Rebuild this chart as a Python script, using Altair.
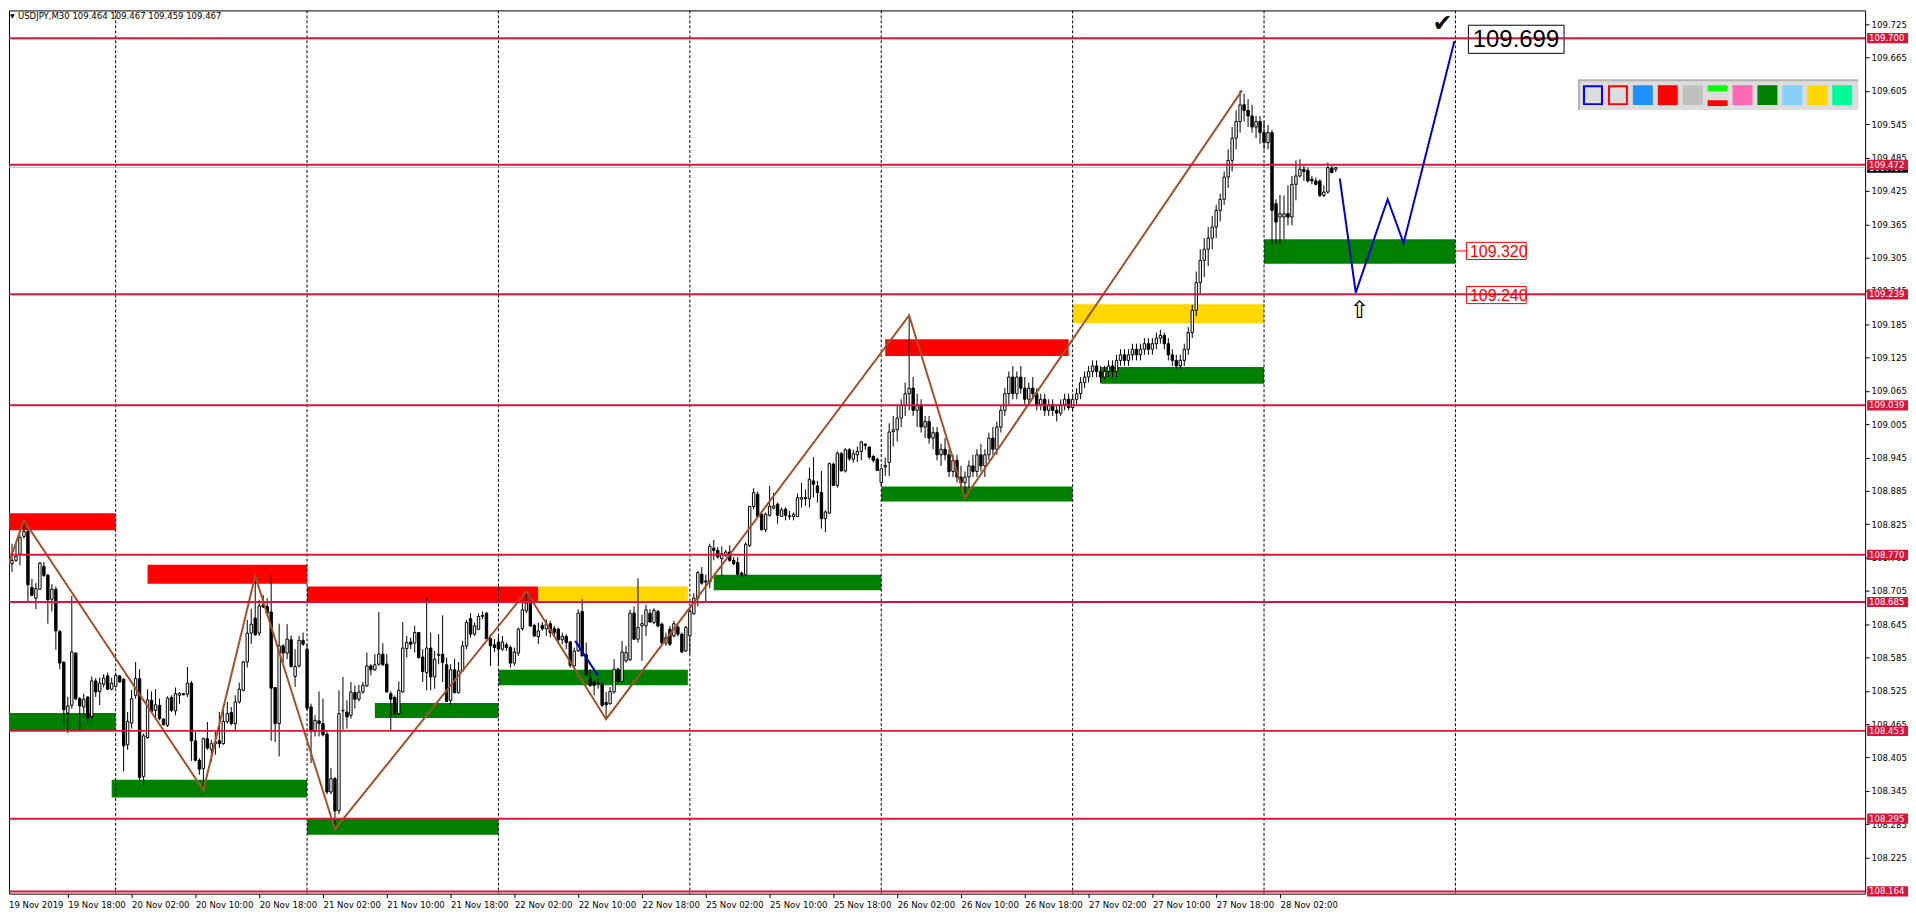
import altair as alt
import pandas as pd

FONT = "DejaVu Sans Condensed, DejaVu Sans, sans-serif"
FONT2 = "Liberation Sans, Arial, sans-serif"

HEADER = "USDJPY,M30  109.464 109.467 109.459 109.467"

OPEN = [
108.659,108.689,108.754,108.760,108.771,108.803,108.812,108.711,108.692,108.708,
108.749,108.733,108.690,108.708,108.632,108.576,108.485,108.499,108.593,108.511,
108.496,108.514,108.479,108.543,108.524,108.537,108.552,108.528,108.533,108.552,
108.546,108.428,108.467,108.517,108.547,108.371,108.441,108.508,108.490,108.499,
108.474,108.463,108.513,108.489,108.517,108.520,108.519,108.539,108.435,108.400,
108.385,108.439,108.420,108.430,108.435,108.430,108.470,108.486,108.466,108.505,
108.526,108.577,108.629,108.656,108.629,108.680,108.677,108.667,108.531,108.466,
108.606,108.593,108.617,108.551,108.570,108.616,108.600,108.496,108.452,108.471,
108.466,108.447,108.343,108.367,108.309,108.489,108.487,108.481,108.522,108.510,
108.523,108.534,108.570,108.563,108.573,108.591,108.573,108.520,108.513,108.484,
108.523,108.601,108.613,108.611,108.630,108.586,108.558,108.602,108.550,108.589,
108.591,108.572,108.508,108.563,108.522,108.561,108.606,108.655,108.627,108.636,
108.659,108.665,108.619,108.608,108.613,108.600,108.608,108.603,108.575,108.593,
108.637,108.669,108.683,108.643,108.623,108.643,108.637,108.646,108.637,108.636,
108.617,108.623,108.613,108.570,108.597,108.668,108.590,108.547,108.541,108.539,
108.536,108.504,108.502,108.523,108.564,108.542,108.579,108.581,108.665,108.618,
108.642,108.642,108.665,108.648,108.668,108.645,108.611,108.636,108.624,108.640,
108.627,108.597,108.624,108.664,108.692,108.735,108.723,108.721,108.782,108.778,
108.763,108.769,108.775,108.760,108.756,108.737,108.734,108.787,108.857,108.879,
108.843,108.815,108.841,108.854,108.861,108.839,108.852,108.840,108.839,108.839,
108.870,108.873,108.871,108.903,108.894,108.882,108.835,108.845,108.933,108.895,
108.952,108.921,108.959,108.942,108.950,108.956,108.969,108.964,108.947,108.942,
108.900,108.928,108.936,108.992,108.995,109.016,109.040,109.060,109.070,109.030,
109.040,109.000,109.010,108.980,108.990,108.950,108.960,108.950,108.920,108.940,
108.910,108.900,108.910,108.930,108.920,108.950,108.930,108.950,108.980,108.960,
109.000,109.030,109.060,109.090,109.060,109.090,109.070,109.050,109.070,109.060,
109.040,109.050,109.030,109.040,109.030,109.025,109.040,109.050,109.035,109.050,
109.060,109.080,109.090,109.100,109.110,109.100,109.090,109.100,109.110,109.100,
109.120,109.130,109.120,109.130,109.140,109.130,109.140,109.150,109.140,109.150,
109.160,109.165,109.150,109.130,109.120,109.110,109.120,109.140,109.170,109.210,
109.260,109.300,109.320,109.340,109.360,109.390,109.410,109.450,109.480,109.520,
109.550,109.580,109.570,109.560,109.540,109.550,109.530,109.512,109.530,109.402,
109.378,109.378,109.384,109.378,109.437,109.452,109.464,109.462,109.446,109.443,
109.443,109.417,109.423,109.466,109.464,
]
HIGH = [
108.692,108.757,108.790,108.790,108.806,108.833,108.815,108.727,108.719,108.757,
108.757,108.736,108.717,108.713,108.635,108.579,108.514,108.696,108.595,108.514,
108.520,108.515,108.551,108.548,108.549,108.555,108.558,108.549,108.558,108.553,
108.548,108.487,108.527,108.577,108.564,108.448,108.528,108.524,108.528,108.511,
108.476,108.515,108.517,108.531,108.523,108.521,108.568,108.543,108.451,108.404,
108.441,108.469,108.437,108.451,108.487,108.499,108.505,108.496,108.517,108.540,
108.579,108.653,108.673,108.733,108.689,108.698,108.692,108.734,108.532,108.646,
108.609,108.645,108.625,108.600,108.624,108.630,108.610,108.502,108.481,108.524,
108.511,108.452,108.386,108.370,108.526,108.550,108.508,108.541,108.535,108.536,
108.541,108.594,108.573,108.591,108.667,108.611,108.591,108.524,108.517,108.542,
108.649,108.624,108.621,108.642,108.631,108.600,108.693,108.630,108.597,108.627,
108.661,108.585,108.573,108.583,108.577,108.615,108.653,108.665,108.648,108.664,
108.668,108.667,108.627,108.618,108.627,108.624,108.612,108.607,108.603,108.639,
108.683,108.704,108.696,108.646,108.648,108.649,108.654,108.651,108.642,108.639,
108.630,108.627,108.615,108.603,108.672,108.690,108.612,108.564,108.544,108.547,
108.541,108.523,108.532,108.582,108.567,108.615,108.606,108.671,108.677,108.728,
108.662,108.680,108.672,108.674,108.671,108.648,108.630,108.642,108.651,108.645,
108.630,108.642,108.672,108.701,108.741,108.748,108.734,108.790,108.797,108.784,
108.785,108.779,108.787,108.766,108.766,108.740,108.793,108.858,108.890,108.884,
108.846,108.846,108.894,108.882,108.864,108.855,108.855,108.849,108.846,108.880,
108.900,108.888,108.927,108.946,108.903,108.921,108.850,108.936,108.936,108.956,
108.955,108.962,108.962,108.959,108.965,108.975,108.971,108.965,108.950,108.945,
108.927,108.945,109.007,109.020,109.040,109.050,109.080,109.201,109.090,109.060,
109.050,109.020,109.020,109.000,109.000,108.970,108.980,108.960,108.950,108.950,
108.930,108.920,108.940,108.950,108.960,108.970,108.960,108.990,109.000,109.010,
109.040,109.070,109.100,109.110,109.100,109.110,109.090,109.080,109.090,109.070,
109.060,109.060,109.050,109.050,109.040,109.050,109.060,109.060,109.060,109.070,
109.090,109.100,109.110,109.120,109.120,109.110,109.110,109.120,109.120,109.130,
109.140,109.140,109.140,109.150,109.150,109.150,109.160,109.160,109.160,109.170,
109.175,109.170,109.160,109.140,109.130,109.130,109.150,109.180,109.220,109.280,
109.320,109.340,109.360,109.380,109.400,109.420,109.460,109.500,109.540,109.570,
109.606,109.600,109.590,109.580,109.560,109.560,109.550,109.544,109.535,109.410,
109.418,109.417,109.435,109.452,109.480,109.482,109.470,109.467,109.452,109.449,
109.446,109.435,109.476,109.473,109.467,
]
LOW = [
108.619,108.683,108.739,108.757,108.751,108.799,108.684,108.695,108.672,108.707,
108.730,108.646,108.668,108.599,108.564,108.464,108.449,108.493,108.508,108.454,
108.478,108.466,108.475,108.514,108.499,108.531,108.527,108.526,108.531,108.540,
108.380,108.419,108.457,108.511,108.362,108.353,108.439,108.487,108.478,108.472,
108.463,108.460,108.487,108.481,108.502,108.517,108.514,108.399,108.398,108.374,
108.347,108.419,108.398,108.410,108.422,108.428,108.466,108.463,108.452,108.502,
108.524,108.567,108.609,108.624,108.624,108.674,108.659,108.435,108.433,108.407,
108.576,108.582,108.567,108.532,108.567,108.606,108.490,108.395,108.443,108.443,
108.443,108.339,108.339,108.276,108.303,108.455,108.457,108.475,108.493,108.506,
108.520,108.532,108.553,108.561,108.570,108.570,108.522,108.453,108.481,108.481,
108.522,108.585,108.600,108.594,108.583,108.541,108.526,108.526,108.529,108.573,
108.541,108.505,108.500,108.520,108.520,108.560,108.600,108.621,108.624,108.634,
108.654,108.618,108.570,108.595,108.570,108.597,108.597,108.567,108.570,108.588,
108.633,108.665,108.640,108.622,108.609,108.633,108.624,108.621,108.624,108.613,
108.609,108.600,108.567,108.567,108.595,108.587,108.552,108.532,108.517,108.529,
108.496,108.475,108.500,108.520,108.541,108.541,108.576,108.579,108.617,108.612,
108.579,108.624,108.648,108.645,108.639,108.609,108.606,108.606,108.621,108.623,
108.593,108.595,108.591,108.662,108.677,108.716,108.686,108.710,108.760,108.763,
108.731,108.766,108.757,108.751,108.732,108.730,108.732,108.784,108.852,108.838,
108.814,108.811,108.839,108.852,108.826,108.838,108.832,108.833,108.832,108.838,
108.855,108.858,108.855,108.873,108.864,108.817,108.811,108.844,108.894,108.891,
108.920,108.918,108.939,108.936,108.937,108.940,108.959,108.942,108.936,108.921,
108.894,108.912,108.912,108.965,108.974,109.000,109.020,109.030,109.020,109.000,
108.990,108.980,108.970,108.960,108.940,108.930,108.940,108.910,108.910,108.900,
108.890,108.873,108.890,108.910,108.910,108.920,108.910,108.940,108.950,108.950,
108.990,109.020,109.040,109.050,109.050,109.060,109.040,109.040,109.050,109.030,
109.030,109.020,109.020,109.020,109.010,109.020,109.030,109.030,109.030,109.040,
109.050,109.070,109.080,109.090,109.090,109.080,109.085,109.090,109.090,109.090,
109.110,109.110,109.110,109.120,109.120,109.120,109.130,109.130,109.130,109.140,
109.150,109.140,109.120,109.110,109.105,109.105,109.110,109.130,109.160,109.200,
109.240,109.270,109.290,109.320,109.340,109.370,109.400,109.430,109.460,109.500,
109.530,109.550,109.540,109.530,109.520,109.510,109.500,109.500,109.328,109.330,
109.330,109.338,109.363,109.363,109.408,109.449,109.443,109.440,109.437,109.435,
109.414,109.414,109.420,109.457,109.459,
]
CLOSE = [
108.689,108.754,108.760,108.767,108.801,108.812,108.716,108.697,108.709,108.755,
108.733,108.689,108.708,108.633,108.575,108.491,108.498,108.595,108.511,108.498,
108.510,108.476,108.543,108.523,108.539,108.548,108.528,108.539,108.553,108.541,
108.426,108.470,108.511,108.547,108.369,108.444,108.509,108.488,108.500,108.475,
108.464,108.512,108.490,108.520,108.520,108.518,108.539,108.435,108.400,108.384,
108.439,108.422,108.430,108.433,108.430,108.470,108.484,108.466,108.505,108.528,
108.577,108.629,108.645,108.626,108.678,108.676,108.665,108.530,108.466,108.606,
108.593,108.618,108.569,108.569,108.616,108.609,108.494,108.452,108.472,108.466,
108.446,108.343,108.367,108.309,108.484,108.490,108.478,108.523,108.510,108.523,
108.535,108.570,108.563,108.572,108.591,108.572,108.523,108.510,108.484,108.526,
108.602,108.612,108.609,108.630,108.585,108.560,108.602,108.550,108.582,108.591,
108.576,108.506,108.563,108.522,108.561,108.606,108.648,108.627,108.642,108.659,
108.661,108.619,108.606,108.603,108.600,108.613,108.603,108.575,108.595,108.636,
108.671,108.683,108.642,108.624,108.633,108.637,108.645,108.630,108.630,108.617,
108.623,108.612,108.571,108.597,108.665,108.588,108.554,108.535,108.535,108.538,
108.499,108.500,108.524,108.564,108.542,108.595,108.594,108.665,108.618,108.639,
108.646,108.671,108.649,108.670,108.642,108.611,108.621,108.609,108.646,108.627,
108.595,108.639,108.668,108.692,108.738,108.719,108.721,108.785,108.778,108.766,
108.772,108.775,108.760,108.754,108.735,108.734,108.789,108.857,108.882,108.839,
108.815,108.843,108.857,108.858,108.841,108.851,108.841,108.839,108.843,108.873,
108.873,108.871,108.906,108.897,108.882,108.835,108.847,108.934,108.895,108.953,
108.921,108.959,108.943,108.952,108.956,108.973,108.967,108.946,108.940,108.922,
108.925,108.931,108.991,108.995,109.016,109.040,109.060,109.070,109.030,109.040,
109.000,109.010,108.980,108.990,108.950,108.960,108.950,108.920,108.940,108.910,
108.900,108.910,108.930,108.920,108.950,108.930,108.950,108.980,108.960,109.000,
109.030,109.060,109.090,109.060,109.090,109.070,109.050,109.070,109.060,109.040,
109.050,109.030,109.040,109.030,109.025,109.040,109.050,109.035,109.050,109.060,
109.080,109.090,109.100,109.110,109.100,109.090,109.100,109.110,109.100,109.120,
109.130,109.120,109.130,109.140,109.130,109.140,109.150,109.140,109.150,109.160,
109.165,109.150,109.130,109.120,109.110,109.120,109.140,109.170,109.210,109.260,
109.300,109.320,109.340,109.360,109.390,109.410,109.450,109.480,109.520,109.550,
109.580,109.570,109.560,109.540,109.550,109.530,109.512,109.530,109.390,109.369,
109.384,109.384,109.378,109.437,109.452,109.464,109.460,109.443,109.443,109.437,
109.417,109.423,109.467,109.458,109.467,
]

TIME_LABELS = ["19 Nov 2019", "19 Nov 18:00", "20 Nov 02:00", "20 Nov 10:00", "20 Nov 18:00",
               "21 Nov 02:00", "21 Nov 10:00", "21 Nov 18:00", "22 Nov 02:00", "22 Nov 10:00",
               "22 Nov 18:00", "25 Nov 02:00", "25 Nov 10:00", "25 Nov 18:00", "26 Nov 02:00",
               "26 Nov 10:00", "26 Nov 18:00", "27 Nov 02:00", "27 Nov 10:00", "27 Nov 18:00",
               "28 Nov 02:00"]
LABEL_STEP = 16
DAY_STARTS = [28, 76, 124, 172, 220, 268, 316, 364]

PRICE_TICKS = [108.225, 108.285, 108.345, 108.405, 108.465, 108.525, 108.585, 108.645,
               108.705, 108.765, 108.825, 108.885, 108.945, 109.005, 109.065, 109.125,
               109.185, 109.245, 109.305, 109.365, 109.425, 109.485, 109.545, 109.605,
               109.665, 109.725]
LEVELS = [109.700, 109.472, 109.239, 109.039, 108.770, 108.685, 108.453, 108.295, 108.164]
CURRENT = 109.467

ZONE_START = [0, 0, 36, 27, 76, 76, 93, 134, 124, 178, 220, 221, 268, 275, 316]
ZONE_END = [28, 28, 76, 76, 134, 124, 124, 171.5, 171.5, 220, 268, 267, 316, 316, 364]
ZONE_LOW = [108.814, 108.453, 108.718, 108.333, 108.683, 108.266, 108.476, 108.683, 108.535,
            108.706, 108.866, 109.128, 109.187, 109.078, 109.294]
ZONE_HIGH = [108.845, 108.485, 108.752, 108.365, 108.713, 108.296, 108.503, 108.713, 108.563,
             108.734, 108.893, 109.158, 109.221, 109.108, 109.338]
ZONE_COLOR = ["#FF0000", "#008000", "#FF0000", "#008000", "#FF0000", "#008000", "#008000",
              "#FFD700", "#008000", "#008000", "#008000", "#FF0000", "#FFD700", "#008000", "#008000"]

ZIG_I = [0, 5, 50, 63, 83, 131, 151, 227, 241, 310.5]
ZIG_P = [108.731, 108.832, 108.346, 108.732, 108.276, 108.704, 108.474, 109.201, 108.873, 109.606]

BLUE_GROUP = ["a", "a", "b", "b", "b", "b", "b"]
BLUE_I = [143.25, 149, 335, 339, 347, 351, 363.75]
BLUE_P = [108.615, 108.552, 109.447, 109.242, 109.410, 109.331, 109.695]

TARGET_TEXT = ["109.320", "109.240"]
TARGET_P = [109.317, 109.2376]
TARGET_START = [366.75, 366.75]
TARGET_END = [381.75, 381.75]
CONNECT_I = [364, 366.75]

BIG_TEXT = "109.699"
BIG_P = 109.698
BIG_START, BIG_END = 367.25, 391.25
CHECK_I, CHECK_P = 360.75, 109.725
ARROW_I, ARROW_P = 340, 109.208

SWATCH_FILL = ["#DCDCDC", "#DCDCDC", "#1E90FF", "#FF0000", "#C0C0C0", "bars",
               "#FF69B4", "#008000", "#87CEFA", "#FFD700", "#00FA9A"]
SWATCH_STROKE = ["#0000FF", "#FF0000", None, None, None, None, None, None, None, None, None]

W, H = 1862, 886
X_DOMAIN = [1.25, 1.25 + W / 4]
Y_DOMAIN = [108.160, 109.750]

xscale = alt.Scale(domain=X_DOMAIN, nice=False, zero=False)
yscale = alt.Scale(domain=Y_DOMAIN, nice=False, zero=False)

label_expr = "[" + ",".join(f"'{t}'" for t in TIME_LABELS) + f"][round(datum.value / {LABEL_STEP})]"
x_axis = alt.Axis(values=[LABEL_STEP * k for k in range(1, len(TIME_LABELS))], labelExpr=label_expr,
                  labelAlign="left", labelFont=FONT, labelFontSize=9.5, labelColor="black",
                  tickSize=4, tickColor="black", domain=False, grid=False, labelPadding=2,
                  labelOverlap=False, labelFlush=False)
y_axis = alt.Axis(orient="right", values=PRICE_TICKS, format=".3f", labelFont=FONT, labelFontSize=9.5,
                  labelColor="black", tickSize=4, tickColor="black", domain=False, grid=False,
                  labelPadding=2, labelOverlap=False, labelFlush=False)


def X(f):
    return alt.X(f"{f}:Q", scale=xscale, axis=x_axis, title=None)


def Y(f):
    return alt.Y(f"{f}:Q", scale=yscale, axis=y_axis, title=None)


candles = pd.DataFrame({"i": list(range(len(OPEN))), "o": OPEN, "h": HIGH, "l": LOW, "c": CLOSE})

zones = alt.Chart(pd.DataFrame({"a": ZONE_START, "b": ZONE_END, "lo": ZONE_LOW, "hi": ZONE_HIGH,
                                "col": ZONE_COLOR})).mark_rect(clip=True).encode(
    x=X("a"), x2="b", y=Y("lo"), y2="hi", color=alt.Color("col:N", scale=None))

seps = alt.Chart(pd.DataFrame({"i": DAY_STARTS})).mark_rule(
    color="black", strokeDash=[3, 2], strokeWidth=1).encode(x=X("i"))

wicks = alt.Chart(candles).mark_rule(color="black", strokeWidth=1, clip=True).encode(
    x=X("i"), y=Y("l"), y2="h")

bodies = alt.Chart(candles).transform_calculate(
    xa="datum.i - 0.3", xb="datum.i + 0.3").mark_rect(
    stroke="black", strokeWidth=1, clip=True).encode(
    x=X("xa"), x2="xb", y=Y("o"), y2="c",
    fill=alt.condition("datum.c >= datum.o", alt.value("white"), alt.value("black")))

zig = alt.Chart(pd.DataFrame({"i": ZIG_I, "p": ZIG_P, "k": list(range(len(ZIG_I)))})).mark_line(
    color="#A0522D", strokeWidth=2, clip=True).encode(x=X("i"), y=Y("p"), order="k:Q")

blue = alt.Chart(pd.DataFrame({"i": BLUE_I, "p": BLUE_P, "g": BLUE_GROUP,
                               "k": list(range(len(BLUE_I)))})).mark_line(
    color="#0000CD", strokeWidth=2).encode(x=X("i"), y=Y("p"), detail="g:N", order="k:Q")

tgt_df = pd.DataFrame({"p": TARGET_P, "t": TARGET_TEXT, "a": TARGET_START, "b": TARGET_END})
tgt_box = alt.Chart(tgt_df).transform_calculate(
    top="datum.p + 0.0154", bot="datum.p - 0.0154").mark_rect(
    fill="white", stroke="#FF0000", strokeWidth=1).encode(x=X("a"), x2="b", y=Y("top"), y2="bot")
tgt_text = alt.Chart(tgt_df).transform_calculate(ta="datum.a + 0.9").mark_text(
    align="left", baseline="middle", color="#FF0000", font=FONT2, fontSize=16, dy=1).encode(
    x=X("ta"), y=Y("p"), text="t:N")
connector = alt.Chart(pd.DataFrame({"a": [CONNECT_I[0]], "b": [CONNECT_I[1]], "p": [TARGET_P[0]]})).mark_rule(
    color="#FF0000", strokeWidth=1).encode(x=X("a"), x2="b", y=Y("p"))

big_df = pd.DataFrame({"a": [BIG_START], "b": [BIG_END], "p": [BIG_P], "t": [BIG_TEXT]})
big_box = alt.Chart(big_df).transform_calculate(
    top="datum.p + 0.0253", bot="datum.p - 0.0253").mark_rect(
    fill="white", stroke="black", strokeWidth=1).encode(x=X("a"), x2="b", y=Y("top"), y2="bot")
big_text = alt.Chart(big_df).transform_calculate(ta="datum.a + 1.1").mark_text(
    align="left", baseline="middle", color="black", font=FONT2, fontSize=24, dy=1).encode(
    x=X("ta"), y=Y("p"), text="t:N")

check = alt.Chart(pd.DataFrame({"i": [CHECK_I], "p": [CHECK_P], "t": ["✔"]})).mark_text(
    align="center", baseline="middle", color="black", font="DejaVu Sans", fontSize=24).encode(
    x=X("i"), y=Y("p"), text="t:N")
arrow = alt.Chart(pd.DataFrame({"i": [ARROW_I], "p": [ARROW_P], "t": ["⇧"]})).mark_text(
    align="center", baseline="middle", color="black", font="DejaVu Sans", fontSize=24).encode(
    x=X("i"), y=Y("p"), text="t:N")

bid = alt.Chart(pd.DataFrame({"p": [CURRENT]})).mark_rule(color="#C0C0C0", strokeWidth=1).encode(y=Y("p"))
hlines = alt.Chart(pd.DataFrame({"p": LEVELS})).mark_rule(color="#DC143C", strokeWidth=2).encode(y=Y("p"))

cur_box = alt.Chart(pd.DataFrame({"p": [CURRENT]})).transform_calculate(
    top="datum.p + 0.0092", bot="datum.p - 0.0092").mark_rect(color="black").encode(
    x=alt.value(W + 2), x2=alt.value(W + 43), y=Y("top"), y2="bot")
cur_text = alt.Chart(pd.DataFrame({"p": [CURRENT]})).transform_calculate(
    t="format(datum.p, '.3f')").mark_text(
    align="left", baseline="middle", color="white", font=FONT, fontSize=9.5).encode(
    x=alt.value(W + 4), y=Y("p"), text="t:N")
lab_box = alt.Chart(pd.DataFrame({"p": LEVELS})).transform_calculate(
    top="datum.p + 0.0092", bot="datum.p - 0.0092").mark_rect(color="#DC143C").encode(
    x=alt.value(W + 2), x2=alt.value(W + 43), y=Y("top"), y2="bot")
lab_text = alt.Chart(pd.DataFrame({"p": LEVELS})).transform_calculate(
    t="format(datum.p, '.3f')").mark_text(
    align="left", baseline="middle", color="white", font=FONT, fontSize=9.5).encode(
    x=alt.value(W + 4), y=Y("p"), text="t:N")

first_label = alt.Chart(pd.DataFrame({"t": [TIME_LABELS[0]]})).mark_text(
    align="left", baseline="top", color="black", font=FONT, fontSize=9.5).encode(
    x=alt.value(0), y=alt.value(H + 6), text="t:N")

header_tri = alt.Chart(pd.DataFrame({"t": ["▼"]})).mark_text(
    align="left", baseline="top", color="black", font="DejaVu Sans", fontSize=6).encode(
    x=alt.value(1), y=alt.value(3), text="t:N")
header = alt.Chart(pd.DataFrame({"t": [HEADER]})).mark_text(
    align="left", baseline="top", color="black", font=FONT, fontSize=9.5).encode(
    x=alt.value(9), y=alt.value(1), text="t:N")

# colour-palette toolbar (top right)
px0 = W - 283
rows = [{"x0": px0 - 4, "x1": px0 + 275, "y0": 70, "y1": 99, "fill": "#B4B4B4", "stroke": "#B4B4B4"},
        {"x0": px0 - 2, "x1": px0 + 275, "y0": 72, "y1": 99, "fill": "#DCDCDC", "stroke": "#DCDCDC"}]
for k, (f, s) in enumerate(zip(SWATCH_FILL, SWATCH_STROKE)):
    left = px0 + 25 * k
    if s is not None:
        rows.append({"x0": left + 1, "x1": left + 19, "y0": 76, "y1": 94, "fill": f, "stroke": s})
    elif f == "bars":
        rows.append({"x0": left + 1, "x1": left + 19, "y0": 76, "y1": 80, "fill": "#00FF00", "stroke": "#00FF00"})
        rows.append({"x0": left + 1, "x1": left + 19, "y0": 91, "y1": 95, "fill": "#FF0000", "stroke": "#FF0000"})
    else:
        rows.append({"x0": left + 1, "x1": left + 19, "y0": 76, "y1": 94, "fill": f, "stroke": f})
panel = alt.Chart(pd.DataFrame(rows)).mark_rect(strokeWidth=2).encode(
    x=alt.X("x0:Q", scale=None), x2="x1:Q", y=alt.Y("y0:Q", scale=None), y2="y1:Q",
    fill=alt.Fill("fill:N", scale=None), stroke=alt.Stroke("stroke:N", scale=None))

chart = alt.layer(
    zones, seps, bid, wicks, bodies, zig, tgt_box, big_box, hlines, connector, blue,
    tgt_text, big_text, check, arrow, cur_box, cur_text, lab_box, lab_text,
    first_label, header_tri, header, panel
).properties(
    width=W, height=H, padding=0, background="white"
).configure_view(stroke="black", strokeWidth=1)

chart.save("out.html", embed_options={"renderer": "svg", "actions": False})
